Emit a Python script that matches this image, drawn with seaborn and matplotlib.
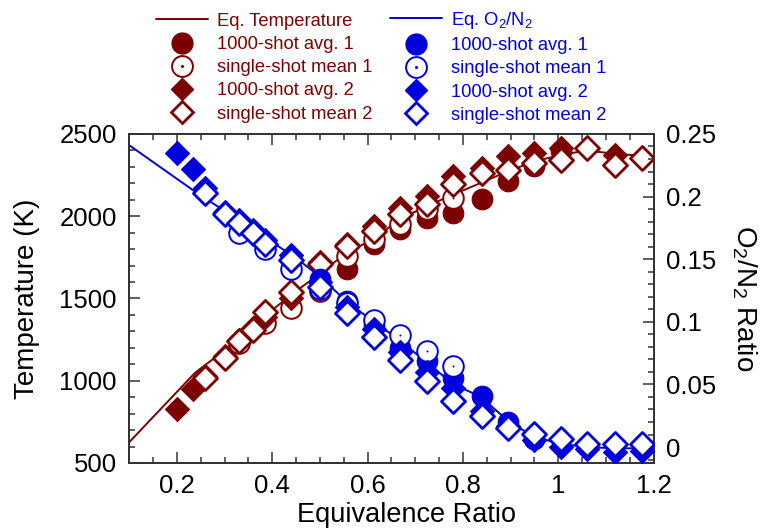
#!/usr/bin/env python3
"""
Equilibrium temperature and O2/N2 ratio vs. equivalence ratio
"""

import numpy as np
import matplotlib
matplotlib.use('Agg')
import matplotlib.pyplot as plt
import seaborn as sns
from matplotlib.lines import Line2D
from matplotlib.legend_handler import HandlerTuple
from matplotlib.ticker import MultipleLocator

sns.set_style('ticks')
plt.rcParams['font.family'] = ['Liberation Sans', 'DejaVu Sans']
plt.rcParams['mathtext.fontset'] = 'custom'
plt.rcParams['mathtext.rm'] = 'Liberation Sans'
plt.rcParams['mathtext.default'] = 'regular'
plt.rcParams['text.color'] = 'black'
plt.rcParams['axes.labelcolor'] = 'black'
plt.rcParams['xtick.color'] = 'black'
plt.rcParams['ytick.color'] = 'black'

RED = '#7d0000'
BLUE = '#0000dd'

# ---- equilibrium curves ----
phi_eq = [0.1, 0.238, 0.3, 0.35, 0.4, 0.45, 0.5, 0.557, 0.613, 0.669, 0.725,
          0.781, 0.838, 0.894, 0.95, 1.006, 1.059, 1.118, 1.175, 1.2]
T_eq = [626, 1048, 1185, 1319, 1430, 1545, 1650, 1781, 1861, 1985, 2062,
        2133, 2203, 2273, 2333, 2373, 2399, 2380, 2367, 2353]
O2_eq = [0.241, 0.204, 0.1885, 0.176, 0.1635, 0.151, 0.136, 0.116, 0.100, 0.085, 0.067,
         0.050, 0.040, 0.021, 0.008, 0.0026, 0.0, -0.001, -0.001, -0.001]

# ---- data set 1 (circles) ----
phi_avg1_T = [0.557, 0.613, 0.669, 0.725, 0.78, 0.84, 0.894, 0.95, 1.006]
T_avg1 = [1681, 1831, 1922, 1992, 2022, 2102, 2213, 2303, 2395]
phi_ss1_T = [0.33, 0.385, 0.44, 0.5, 0.557, 0.613, 0.669, 0.725, 0.78]
T_ss1 = [1229, 1349, 1440, 1545, 1761, 1861, 1952, 2042, 2112]

phi_avg1_O = [0.5, 0.557, 0.613, 0.669, 0.725, 0.78, 0.84, 0.894, 0.95]
O2_avg1 = [0.1345, 0.117, 0.097, 0.079, 0.0686, 0.0554, 0.0409, 0.0198, 0.0066]
phi_ss1_O = [0.33, 0.385, 0.44, 0.5, 0.557, 0.613, 0.669, 0.725, 0.78]
O2_ss1 = [0.171, 0.158, 0.142, 0.126, 0.115, 0.1015, 0.0896, 0.0765, 0.0646]

# ---- data set 2 (diamonds) ----
phi_avg2_T = [0.2, 0.233, 0.259, 0.3, 0.33, 0.36, 0.385, 0.44, 0.5, 0.557, 0.613,
              0.669, 0.725, 0.78, 0.84, 0.894, 0.95, 1.006, 1.118]
T_avg2 = [827, 948, 1030, 1150, 1250, 1320, 1390, 1500, 1720, 1830, 1942,
          2052, 2122, 2243, 2293, 2363, 2383, 2413, 2373]
phi_ss2_T = [0.259, 0.3, 0.33, 0.36, 0.385, 0.44, 0.5, 0.557, 0.613, 0.669, 0.725,
             0.78, 0.84, 0.894, 0.95, 1.006, 1.06, 1.118, 1.175]
T_ss2 = [1018, 1139, 1239, 1309, 1420, 1540, 1711, 1821, 1911, 2012, 2072,
         2193, 2263, 2283, 2323, 2343, 2413, 2313, 2353]

phi_avg2_O = [0.2, 0.233, 0.259, 0.3, 0.33, 0.36, 0.385, 0.44, 0.5, 0.557, 0.613,
              0.669, 0.725, 0.78, 0.84, 0.894, 0.95, 1.006, 1.06, 1.118, 1.175]
O2_avg2 = [0.2347, 0.222, 0.207, 0.188, 0.181, 0.173, 0.165, 0.153, 0.132, 0.112, 0.094,
           0.076, 0.060, 0.0475, 0.029, 0.017, 0.006, 0.0, -0.0013, -0.004, -0.003]
phi_ss2_O = [0.259, 0.3, 0.33, 0.36, 0.385, 0.44, 0.5, 0.557, 0.613, 0.669, 0.725,
             0.78, 0.84, 0.894, 0.95, 1.006, 1.06, 1.118, 1.175]
O2_ss2 = [0.203, 0.186, 0.179, 0.171, 0.162, 0.149, 0.128, 0.107, 0.088, 0.0699, 0.0528,
          0.0364, 0.0251, 0.0153, 0.0105, 0.0066, 0.0026, 0.0026, 0.0026]

S_CIRC = 220
S_DIAM = 150
LW_OPEN = 1.4

fig = plt.figure(figsize=(7.69, 5.29), dpi=100)
ax = fig.add_axes([0.168, 0.1248, 0.682, 0.622])
ax2 = ax.twinx()


def draw_set(a, color, phi_a1, y_a1, phi_s1, y_s1, phi_a2, y_a2, phi_s2, y_s2):
    sns.scatterplot(x=phi_a1, y=y_a1, ax=a, marker='o', s=S_CIRC, color=color,
                    edgecolor=color, linewidth=0.8, zorder=3)
    sns.scatterplot(x=phi_s1, y=y_s1, ax=a, marker='o', s=S_CIRC, color='white',
                    edgecolor=color, linewidth=LW_OPEN, zorder=4)
    sns.scatterplot(x=phi_s1, y=y_s1, ax=a, marker='o', s=2, color=color,
                    edgecolor=color, linewidth=0, zorder=5)
    sns.scatterplot(x=phi_a2, y=y_a2, ax=a, marker='D', s=S_DIAM, color=color,
                    edgecolor=color, linewidth=0.8, zorder=6)
    sns.scatterplot(x=phi_s2, y=y_s2, ax=a, marker='D', s=S_DIAM, color='white',
                    edgecolor=color, linewidth=LW_OPEN + 0.6, zorder=7)


sns.lineplot(x=phi_eq, y=T_eq, ax=ax, color=RED, lw=1.4, sort=False, estimator=None, zorder=2)
draw_set(ax, RED, phi_avg1_T, T_avg1, phi_ss1_T, T_ss1, phi_avg2_T, T_avg2, phi_ss2_T, T_ss2)

sns.lineplot(x=phi_eq, y=O2_eq, ax=ax2, color=BLUE, lw=1.4, sort=False, estimator=None, zorder=2)
draw_set(ax2, BLUE, phi_avg1_O, O2_avg1, phi_ss1_O, O2_ss1, phi_avg2_O, O2_avg2, phi_ss2_O, O2_ss2)

# axes
ax.set_xlim(0.1, 1.2)
ax.set_ylim(500, 2500)
ax2.set_ylim(-0.0127, 0.25)
ax.xaxis.set_minor_locator(MultipleLocator(0.05))
ax.yaxis.set_major_locator(MultipleLocator(500))
ax.yaxis.set_minor_locator(MultipleLocator(100))
ax2.yaxis.set_minor_locator(MultipleLocator(0.01))
ax.set_xticks([0.2, 0.4, 0.6, 0.8, 1.0, 1.2])
ax.set_xticklabels(['0.2', '0.4', '0.6', '0.8', '1', '1.2'])
ax2.set_yticks([0, 0.05, 0.1, 0.15, 0.2, 0.25])
ax2.set_yticklabels(['0', '0.05', '0.1', '0.15', '0.2', '0.25'])

ax.tick_params(axis='x', which='both', direction='in', top=True, labelsize=18.5, pad=8)
ax.tick_params(axis='y', which='both', direction='in', right=False, labelsize=18.5, pad=9)
ax2.tick_params(axis='y', which='both', direction='in', labelsize=18.5, pad=9)
for a in (ax, ax2):
    a.tick_params(which='major', length=8, width=1.1, color='#333333')
    a.tick_params(which='minor', length=4.5, width=1.1, color='#333333')
    for sp in a.spines.values():
        sp.set_linewidth(1.3)
        sp.set_color('#333333')

ax.set_xlabel('Equivalence Ratio', fontsize=19.5)
ax.xaxis.set_label_coords(0.528, -0.118)
ax.set_ylabel('Temperature (K)', fontsize=20, labelpad=14)
ax2.set_ylabel('O$_2$/N$_2$ Ratio', fontsize=20, rotation=270, va='bottom', labelpad=10)

# legends
dot_red = Line2D([], [], marker='o', ms=1.2, color=RED, ls='none')
dot_blue = Line2D([], [], marker='o', ms=1.2, color=BLUE, ls='none')


def make_handles(color, dot):
    return [
        Line2D([], [], color=color, lw=1.4),
        Line2D([], [], marker='o', ms=15, color=color, ls='none'),
        (Line2D([], [], marker='o', ms=15, mfc='white', mec=color, mew=LW_OPEN, ls='none'), dot),
        Line2D([], [], marker='D', ms=11, color=color, ls='none'),
        Line2D([], [], marker='D', ms=11, mfc='white', mec=color, mew=LW_OPEN + 0.6, ls='none'),
    ]


labels_T = ['Eq. Temperature', '1000-shot avg. 1', 'single-shot mean 1',
            '1000-shot avg. 2', 'single-shot mean 2']
labels_O = ['Eq. O$_2$/N$_2$', '1000-shot avg. 1', 'single-shot mean 1',
            '1000-shot avg. 2', 'single-shot mean 2']

hmap = {tuple: HandlerTuple(ndivide=1, pad=0)}
leg1 = fig.legend(make_handles(RED, dot_red), labels_T, loc='upper left',
                  bbox_to_anchor=(0.182, 1.007), frameon=False, fontsize=13.2,
                  labelcolor=RED, handlelength=2.8, handletextpad=0.5,
                  labelspacing=0.34, handler_map=hmap)
leg2 = fig.legend(make_handles(BLUE, dot_blue), labels_O, loc='upper left',
                  bbox_to_anchor=(0.486, 1.0125), frameon=False, fontsize=13.2,
                  labelcolor=BLUE, handlelength=2.8, handletextpad=0.5,
                  labelspacing=0.34, handler_map=hmap)

fig.savefig('out.png', dpi=100)
